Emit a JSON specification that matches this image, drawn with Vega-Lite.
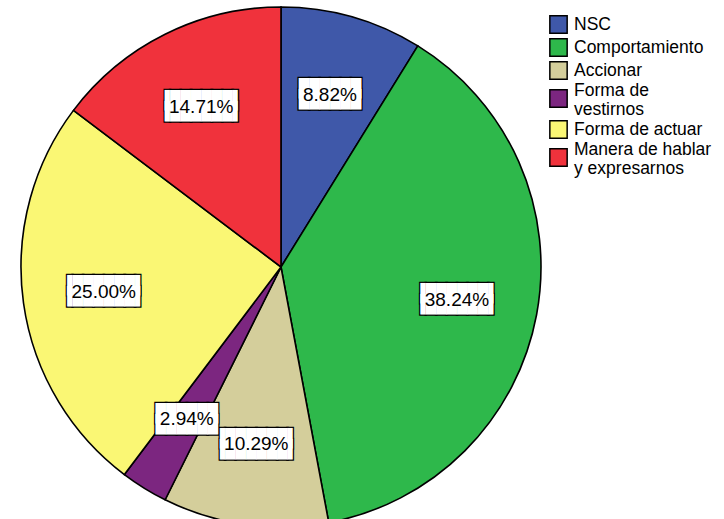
{
  "$schema": "https://vega.github.io/schema/vega-lite/v6.json",
  "width": 724,
  "height": 519,
  "padding": 0,
  "autosize": {"type": "none"},
  "background": "white",
  "config": {"view": {"stroke": null}},
  "data": {"values": [
    {"cat": "NSC", "pct": 8.82, "label": "8.82%"},
    {"cat": "Comportamiento", "pct": 38.24, "label": "38.24%"},
    {"cat": "Accionar", "pct": 10.29, "label": "10.29%"},
    {"cat": "Forma de vestirnos", "pct": 2.94, "label": "2.94%"},
    {"cat": "Forma de actuar", "pct": 25.00, "label": "25.00%"},
    {"cat": "Manera de hablar y expresarnos", "pct": 14.71, "label": "14.71%"}
  ]},
  "transform": [{"window": [{"op": "row_number", "as": "idx"}]}],
  "encoding": {
    "theta": {"field": "pct", "type": "quantitative", "stack": true},
    "order": {"field": "idx", "type": "quantitative"},
    "x": {"value": 281},
    "y": {"value": 267}
  },
  "layer": [
    {
      "mark": {"type": "arc", "outerRadius": 260, "stroke": "black", "strokeWidth": 1.6},
      "encoding": {
        "color": {
          "field": "cat", "type": "nominal", "sort": null,
          "scale": {
            "domain": ["NSC", "Comportamiento", "Accionar", "Forma de vestirnos", "Forma de actuar", "Manera de hablar y expresarnos"],
            "range": ["#3F58A9", "#2EB84B", "#D4CE9B", "#7C2680", "#FAF774", "#F0323C"]
          },
          "legend": {
            "title": null,
            "orient": "none",
            "legendX": 549,
            "legendY": 15,
            "symbolType": "square",
            "symbolSize": 300,
            "symbolStrokeColor": "black",
            "symbolStrokeWidth": 1.5,
            "labelFont": "Liberation Sans",
            "labelFontSize": 17.5,
            "labelLineHeight": 17,
            "labelColor": "black",
            "labelLimit": 300,
            "labelOffset": 6,
            "rowPadding": -2,
            "labelExpr": "datum.label == 'Forma de vestirnos' ? ['Forma de', 'vestirnos'] : datum.label == 'Manera de hablar y expresarnos' ? ['Manera de hablar', 'y expresarnos'] : datum.label",
            "encoding": {
              "labels": {
                "dy": {"condition": {"test": "datum.label == 'Forma de vestirnos' || datum.label == 'Manera de hablar y expresarnos'", "value": -8}, "value": 0}
              }
            }
          }
        }
      }
    },
    {
      "mark": {"type": "text", "font": "DejaVu Sans Mono", "fontSize": 17.3, "lineHeight": 11, "dy": -5.5, "align": "center", "baseline": "middle", "fill": "black", "stroke": "black", "strokeWidth": 2.5},
      "encoding": {
        "radius": {"value": 179},
        "text": {"condition": {"test": "length(datum.label) > 5", "value": ["▐██████▌", "▐██████▌"]}, "value": ["██████", "██████"]}
      }
    },
    {
      "mark": {"type": "text", "font": "DejaVu Sans Mono", "fontSize": 17.3, "lineHeight": 11, "dy": -5.5, "align": "center", "baseline": "middle", "fill": "white"},
      "encoding": {
        "radius": {"value": 179},
        "text": {"condition": {"test": "length(datum.label) > 5", "value": ["▐██████▌", "▐██████▌"]}, "value": ["██████", "██████"]}
      }
    },
    {
      "mark": {"type": "text", "font": "Liberation Sans", "fontSize": 19, "align": "center", "baseline": "middle", "color": "black"},
      "encoding": {
        "radius": {"value": 179},
        "text": {"field": "label", "type": "nominal"}
      }
    }
  ]
}
